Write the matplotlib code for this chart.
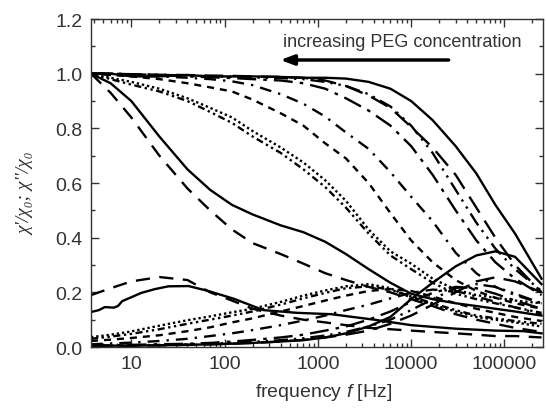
import numpy as np
import matplotlib
matplotlib.use('Agg')
import matplotlib.pyplot as plt
from matplotlib.ticker import FixedLocator, LogLocator, MultipleLocator, NullFormatter

plt.rcParams['font.family'] = ['Liberation Sans', 'DejaVu Sans']
plt.rcParams['mathtext.fontset'] = 'custom'
plt.rcParams['mathtext.it'] = 'Liberation Sans:italic'
plt.rcParams['mathtext.rm'] = 'Liberation Sans'

# common frequency grid [Hz]
freq = [3.7, 6, 10, 20, 40, 70, 120, 200, 400, 700, 1200, 2000, 3500, 6000,
        10000, 17000, 30000, 50000, 80000, 130000, 250000]

# chi' / chi0 (real part), one list per sample
re_A = [1.0, 0.93, 0.84, 0.70, 0.58, 0.50, 0.43, 0.38, 0.34, 0.305, 0.27, 0.245, 0.22, 0.20,
        0.175, 0.15, 0.12, 0.10, 0.085, 0.07, 0.055]
re_B = [1.0, 0.965, 0.90, 0.77, 0.65, 0.575, 0.52, 0.485, 0.445, 0.42, 0.385, 0.34, 0.285, 0.235,
        0.195, 0.175, 0.16, 0.15, 0.14, 0.13, 0.115]
re_C1 = [1.0, 0.985, 0.97, 0.945, 0.91, 0.875, 0.84, 0.79, 0.73, 0.675, 0.61, 0.535, 0.43, 0.35,
         0.305, 0.25, 0.21, 0.19, 0.18, 0.17, 0.16]
re_C2 = [1.0, 0.98, 0.96, 0.935, 0.90, 0.86, 0.82, 0.77, 0.71, 0.65, 0.585, 0.51, 0.415, 0.335,
         0.285, 0.235, 0.195, 0.175, 0.16, 0.145, 0.125]
re_D = [1.0, 0.995, 0.99, 0.98, 0.965, 0.95, 0.935, 0.905, 0.855, 0.81, 0.745, 0.69, 0.60, 0.49,
        0.39, 0.31, 0.245, 0.205, 0.18, 0.16, 0.14]
re_E = [1.0, 1.0, 0.995, 0.99, 0.985, 0.98, 0.972, 0.958, 0.925, 0.89, 0.843, 0.785, 0.725, 0.64,
        0.55, 0.46, 0.345, 0.27, 0.22, 0.19, 0.16]
re_F = [1.0, 1.0, 0.998, 0.995, 0.99, 0.987, 0.984, 0.98, 0.975, 0.965, 0.945, 0.91, 0.865, 0.81,
        0.735, 0.63, 0.50, 0.39, 0.31, 0.25, 0.19]
re_G = [1.0, 1.0, 0.998, 0.996, 0.993, 0.99, 0.988, 0.986, 0.984, 0.98, 0.97, 0.955, 0.925, 0.88,
        0.81, 0.71, 0.575, 0.455, 0.36, 0.285, 0.205]
re_H = [1.0, 1.0, 0.998, 0.996, 0.995, 0.993, 0.992, 0.99, 0.988, 0.985, 0.975, 0.955, 0.92, 0.875,
        0.805, 0.73, 0.63, 0.51, 0.40, 0.30, 0.20]
re_I = [1.0, 1.0, 0.99, 0.99, 0.995, 0.99, 0.99, 0.99, 0.988, 0.985, 0.985, 0.982, 0.97, 0.945,
        0.90, 0.83, 0.735, 0.635, 0.52, 0.415, 0.25]

# chi'' / chi0 (imaginary part)
im_A = [0.19, 0.215, 0.24, 0.256, 0.245, 0.20, 0.17, 0.14, 0.115, 0.10, 0.09, 0.08, 0.07, 0.065,
        0.06, 0.055, 0.05, 0.045, 0.04, 0.04, 0.035]
freq_B = [3.7, 4.5, 5.2, 6.5, 7.2, 8, 10, 12.8, 18, 25, 41, 67, 127, 260, 600, 1400, 4000,
          10000, 30000, 80000, 160000, 250000]
im_B = [0.128, 0.135, 0.146, 0.144, 0.150, 0.168, 0.182, 0.198, 0.212, 0.222, 0.223, 0.205, 0.176,
        0.135, 0.125, 0.12, 0.10, 0.08, 0.067, 0.06, 0.058, 0.05]
im_C1 = [0.036, 0.045, 0.057, 0.078, 0.098, 0.112, 0.127, 0.14, 0.165, 0.188, 0.207, 0.222, 0.23, 0.215,
         0.18, 0.155, 0.13, 0.11, 0.10, 0.09, 0.075]
im_C2 = [0.03, 0.038, 0.048, 0.065, 0.085, 0.10, 0.115, 0.13, 0.155, 0.178, 0.198, 0.215, 0.222, 0.21,
         0.185, 0.16, 0.135, 0.115, 0.105, 0.095, 0.085]
im_D = [0.022, 0.027, 0.033, 0.043, 0.058, 0.072, 0.09, 0.105, 0.13, 0.15, 0.17, 0.188, 0.205, 0.212,
        0.205, 0.185, 0.16, 0.14, 0.125, 0.11, 0.095]
im_E = [0.01, 0.013, 0.016, 0.022, 0.03, 0.04, 0.05, 0.062, 0.08, 0.097, 0.115, 0.135, 0.155, 0.178,
        0.198, 0.21, 0.205, 0.185, 0.165, 0.145, 0.12]
im_F = [0.005, 0.006, 0.008, 0.01, 0.012, 0.015, 0.02, 0.026, 0.035, 0.045, 0.06, 0.075, 0.10, 0.13,
        0.165, 0.198, 0.22, 0.215, 0.195, 0.17, 0.14]
im_G = [0.004, 0.005, 0.006, 0.008, 0.01, 0.012, 0.015, 0.019, 0.025, 0.032, 0.042, 0.055, 0.075, 0.10,
        0.135, 0.175, 0.215, 0.23, 0.22, 0.195, 0.16]
im_H = [0.003, 0.004, 0.005, 0.006, 0.008, 0.01, 0.012, 0.015, 0.02, 0.026, 0.035, 0.045, 0.06, 0.085,
        0.115, 0.155, 0.20, 0.24, 0.255, 0.24, 0.20]
im_I = [0.005, 0.005, 0.005, 0.006, 0.008, 0.01, 0.012, 0.015, 0.02, 0.025, 0.035, 0.05, 0.075, 0.11,
        0.175, 0.235, 0.295, 0.335, 0.35, 0.33, 0.23]

xticks = [10, 100, 1000, 10000, 100000]
xticklabels = ['10', '100', '1000', '10000', '100000']

styles = {
    'A': (0, (6, 4)),
    'B': '-',
    'C1': (0, (1, 1.2)),
    'C2': (0, (3, 1.5, 1, 1.5, 1, 1.5)),
    'D': (0, (3, 2.5)),
    'E': (0, (5, 3, 1, 3)),
    'F': (0, (8, 3, 1.5, 3)),
    'G': (0, (6, 2.5, 1, 2.5, 1, 2.5)),
    'H': (0, (8, 4)),
    'I': '-',
}

fig = plt.figure(figsize=(5.46, 4.10), dpi=100)
ax = fig.add_axes([0.1667, 0.1512, 0.828, 0.80])

real = [('A', re_A), ('B', re_B), ('C1', re_C1), ('C2', re_C2), ('D', re_D),
        ('E', re_E), ('F', re_F), ('G', re_G), ('H', re_H), ('I', re_I)]
imag = [('A', freq, im_A), ('B', freq_B, im_B), ('C1', freq, im_C1), ('C2', freq, im_C2),
        ('D', freq, im_D), ('E', freq, im_E), ('F', freq, im_F), ('G', freq, im_G),
        ('H', freq, im_H), ('I', freq, im_I)]

for name, y in real:
    ax.plot(freq, y, color='black', lw=1.7, ls=styles[name])
for name, f, y in imag:
    ax.plot(f, y, color='black', lw=1.7, ls=styles[name])

ax.set_xscale('log')
ax.set_xlim(3.7, 260000)
ax.set_ylim(0, 1.2)
ax.xaxis.set_major_locator(FixedLocator(xticks))
ax.set_xticklabels(xticklabels)
ax.xaxis.set_minor_locator(LogLocator(base=10, subs=np.arange(2, 10)))
ax.xaxis.set_minor_formatter(NullFormatter())
ax.yaxis.set_major_locator(MultipleLocator(0.2))
ax.yaxis.set_minor_locator(MultipleLocator(0.1))
ax.yaxis.set_major_formatter(plt.FuncFormatter(lambda v, p: '%.1f' % v))

ax.tick_params(which='both', direction='in', top=True, right=True, labelsize=14, colors='#333333')
ax.tick_params(which='major', length=6, width=1, pad=6)
ax.tick_params(which='minor', length=3, width=1)
for sp in ax.spines.values():
    sp.set_color('#333333')
    sp.set_linewidth(1.0)

ax.set_xlabel('frequency $\\it{f}$ [Hz]', fontsize=14, color='#333333', labelpad=5)
ax.xaxis.set_label_coords(0.515, -0.105)
ax.set_ylabel("\u03c7'/\u03c7\u2080; \u03c7''/\u03c7\u2080", fontsize=14, color='#333333',
              family=['Liberation Serif', 'DejaVu Serif'], style='italic')
ax.yaxis.set_label_coords(-0.125, 0.47)

ax.text(8030, 1.116, 'increasing PEG concentration', ha='center', va='center',
        fontsize=13, color='#333333')
ax.annotate('', xy=(370, 1.05), xytext=(27000, 1.05),
            arrowprops=dict(arrowstyle='-|>,head_length=0.8,head_width=0.3', lw=2.5, color='black'))

fig.savefig('out.png', dpi=100)
